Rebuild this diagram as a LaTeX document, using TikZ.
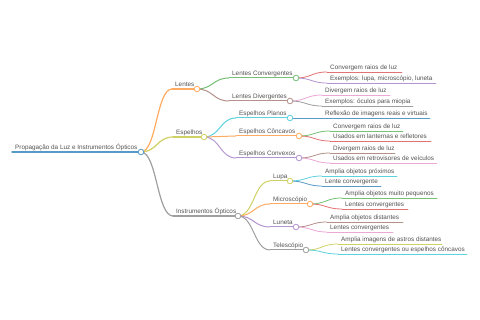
\documentclass[tikz,border=0pt]{standalone}
\usepackage{fontspec}
\setmainfont{Liberation Sans}
\usetikzlibrary{calc}
\definecolor{cBlue}{HTML}{1F77B4}
\definecolor{cOrange}{HTML}{FF7F0E}
\definecolor{cGreen}{HTML}{2CA02C}
\definecolor{cRed}{HTML}{D62728}
\definecolor{cPurple}{HTML}{9467BD}
\definecolor{cBrown}{HTML}{8C564B}
\definecolor{cPink}{HTML}{E377C2}
\definecolor{cGray}{HTML}{7F7F7F}
\definecolor{cOlive}{HTML}{BCBD22}
\definecolor{cCyan}{HTML}{17BECF}
\colorlet{kBlue}{cBlue!75!white}
\colorlet{kOrange}{cOrange!65!white}
\colorlet{kGreen}{cGreen!65!white}
\colorlet{kRed}{cRed!65!white}
\colorlet{kPurple}{cPurple!70!white}
\colorlet{kBrown}{cBrown!65!white}
\colorlet{kPink}{cPink!65!white}
\colorlet{kGray}{cGray!75!white}
\colorlet{kOlive}{cOlive!70!white}
\colorlet{kCyan}{cCyan!70!white}
\tikzset{
  lbl/.style={font=\fontsize{6.35}{7}\selectfont, text=black!68, inner sep=0pt, anchor=base west},
  dot/.style={circle, fill=white, minimum size=5.6pt, inner sep=0pt, line width=0.8pt},
}
% name, color, line width, text x, underline y, end x, text
\newcommand{\mmtopic}[7]{%
  \coordinate (#1L) at ({#4-3},#5);
  \coordinate (#1R) at (#6,#5);
  \node[lbl] (#1) at (#4,{#5-2.4}) {#7};
  \draw[#2, line width=#3, line cap=round] (#1L) -- (#1R);
}
% color, line width, from, to
\newcommand{\mmlink}[4]{%
  \path ($(#3)!0.5!(#4)$) coordinate (mmmid);
  \draw[#1, line width=#2] (#3) .. controls (mmmid |- #3) and (mmmid |- #4) .. (#4);
}
\begin{document}
\begin{tikzpicture}[x=1pt,y=-1pt]
\useasboundingbox[fill=white] (0,0) rectangle (480,320);
% topics
\mmtopic{root}{kBlue}{1.5}{15}{152}{141}{Propagação da Luz e Instrumentos Ópticos}
\mmtopic{lentes}{kOrange}{1.2}{175}{89}{197}{Lentes}
\mmtopic{espelhos}{kOlive}{1.2}{176}{137}{204}{Espelhos}
\mmtopic{instr}{kGray}{1.2}{176}{216}{238}{Instrumentos Ópticos}
\mmtopic{lconv}{kGreen}{1}{232}{78}{296}{Lentes Convergentes}
\mmtopic{ldiv}{kBrown}{1}{232}{101}{290}{Lentes Divergentes}
\mmtopic{eplan}{kCyan}{1}{239}{118}{290}{Espelhos Planos}
\mmtopic{econc}{kOrange}{1}{239}{136}{299}{Espelhos Côncavos}
\mmtopic{econv}{kPurple}{1}{239}{158}{299}{Espelhos Convexos}
\mmtopic{lupa}{kOlive}{1}{273}{181}{290}{Lupa}
\mmtopic{micro}{kOrange}{1}{273}{204}{310}{Microscópio}
\mmtopic{luneta}{kPurple}{1}{273}{227}{296}{Luneta}
\mmtopic{tele}{kGray}{1}{273}{250}{306}{Telescópio}
\mmtopic{aa}{kRed}{0.8}{330}{72}{402}{Convergem raios de luz}
\mmtopic{ab}{kPurple}{0.8}{330}{83}{436}{Exemplos: lupa, microscópio, luneta}
\mmtopic{ba}{kPink}{0.8}{325}{95}{390}{Divergem raios de luz}
\mmtopic{bb}{kGray}{0.8}{325}{106}{413}{Exemplos: óculos para miopia}
\mmtopic{ca}{kBlue}{0.8}{325}{118}{430}{Reflexão de imagens reais e virtuais}
\mmtopic{da}{kGreen}{0.8}{333}{131}{403}{Convergem raios de luz}
\mmtopic{db}{kRed}{0.8}{333}{141}{431}{Usados em lanternas e refletores}
\mmtopic{ea}{kBrown}{0.8}{333}{153}{395}{Divergem raios de luz}
\mmtopic{eb}{kPink}{0.8}{333}{163}{437}{Usados em retrovisores de veículos}
\mmtopic{fa}{kCyan}{0.8}{325}{176}{397}{Amplia objetos próximos}
\mmtopic{fb}{kBlue}{0.8}{325}{186}{381}{Lente convergente}
\mmtopic{ga}{kGreen}{0.8}{345}{198}{437}{Amplia objetos muito pequenos}
\mmtopic{gb}{kRed}{0.8}{345}{209}{408}{Lentes convergentes}
\mmtopic{ha}{kBrown}{0.8}{330}{222}{403}{Amplia objetos distantes}
\mmtopic{hb}{kPink}{0.8}{330}{232}{393}{Lentes convergentes}
\mmtopic{ia}{kOlive}{0.8}{341}{244}{442}{Amplia imagens de astros distantes}
\mmtopic{ib}{kCyan}{0.8}{341}{254}{467}{Lentes convergentes ou espelhos côncavos}
% links
\mmlink{kOrange}{1.2}{rootR}{lentesL}
\mmlink{kOlive}{1.2}{rootR}{espelhosL}
\mmlink{kGray}{1.2}{rootR}{instrL}
\mmlink{kGreen}{1}{lentesR}{lconvL}
\mmlink{kBrown}{1}{lentesR}{ldivL}
\mmlink{kCyan}{1}{espelhosR}{eplanL}
\mmlink{kOrange}{1}{espelhosR}{econcL}
\mmlink{kPurple}{1}{espelhosR}{econvL}
\mmlink{kOlive}{1}{instrR}{lupaL}
\mmlink{kOrange}{1}{instrR}{microL}
\mmlink{kPurple}{1}{instrR}{lunetaL}
\mmlink{kGray}{1}{instrR}{teleL}
\mmlink{kRed}{0.8}{lconvR}{aaL}
\mmlink{kPurple}{0.8}{lconvR}{abL}
\mmlink{kPink}{0.8}{ldivR}{baL}
\mmlink{kGray}{0.8}{ldivR}{bbL}
\mmlink{kBlue}{0.8}{eplanR}{caL}
\mmlink{kGreen}{0.8}{econcR}{daL}
\mmlink{kRed}{0.8}{econcR}{dbL}
\mmlink{kBrown}{0.8}{econvR}{eaL}
\mmlink{kPink}{0.8}{econvR}{ebL}
\mmlink{kCyan}{0.8}{lupaR}{faL}
\mmlink{kBlue}{0.8}{lupaR}{fbL}
\mmlink{kGreen}{0.8}{microR}{gaL}
\mmlink{kRed}{0.8}{microR}{gbL}
\mmlink{kBrown}{0.8}{lunetaR}{haL}
\mmlink{kPink}{0.8}{lunetaR}{hbL}
\mmlink{kOlive}{0.8}{teleR}{iaL}
\mmlink{kCyan}{0.8}{teleR}{ibL}
% circles
\node[dot, draw=kBlue] (rootC) at (rootR) {};
\node[dot, draw=kOrange] (lentesC) at (lentesR) {};
\node[dot, draw=kOlive] (espelhosC) at (espelhosR) {};
\node[dot, draw=kGray] (instrC) at (instrR) {};
\node[dot, draw=kGreen] (lconvC) at (lconvR) {};
\node[dot, draw=kBrown] (ldivC) at (ldivR) {};
\node[dot, draw=kCyan] (eplanC) at (eplanR) {};
\node[dot, draw=kOrange] (econcC) at (econcR) {};
\node[dot, draw=kPurple] (econvC) at (econvR) {};
\node[dot, draw=kOlive] (lupaC) at (lupaR) {};
\node[dot, draw=kOrange] (microC) at (microR) {};
\node[dot, draw=kPurple] (lunetaC) at (lunetaR) {};
\node[dot, draw=kGray] (teleC) at (teleR) {};
\end{tikzpicture}
\end{document}
